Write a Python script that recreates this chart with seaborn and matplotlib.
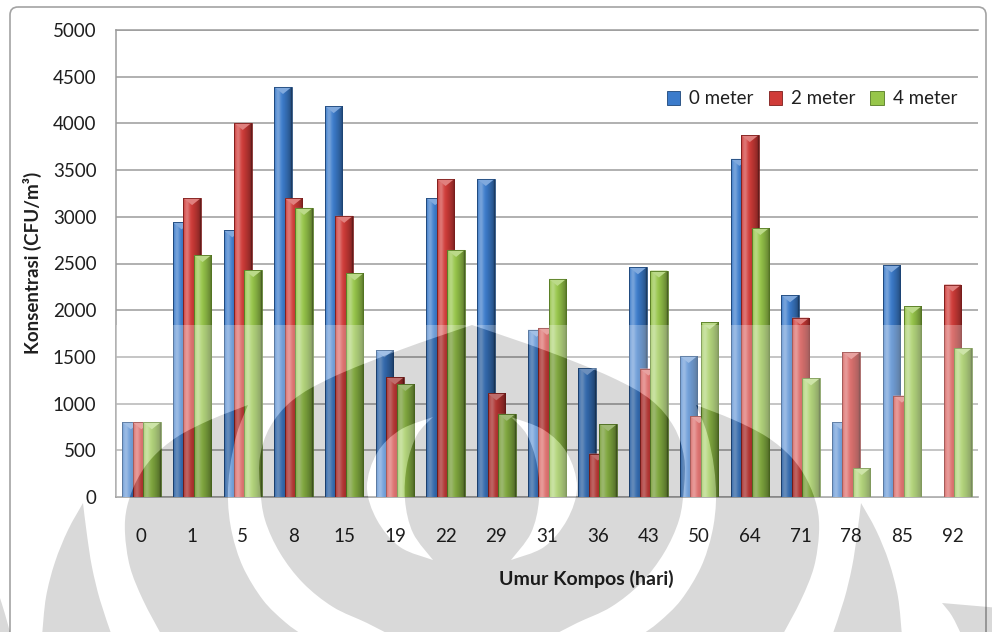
import numpy as np
import pandas as pd
import matplotlib
matplotlib.use("Agg")
import matplotlib.pyplot as plt
import seaborn as sns
from matplotlib.path import Path
from matplotlib.patches import PathPatch, FancyBboxPatch, Rectangle, Polygon

# ---- data -------------------------------------------------------------
days = ["0", "1", "5", "8", "15", "19", "22", "29", "31", "36",
        "43", "50", "64", "71", "78", "85", "92"]
series = ["0 meter", "2 meter", "4 meter"]
meter_0 = [800, 2940, 2855, 4390, 4185, 1570, 3200, 3405, 1790, 1380,
           2460, 1510, 3620, 2160, 800, 2480, np.nan]
meter_2 = [800, 3200, 4005, 3200, 3010, 1280, 3405, 1110, 1810, 465,
           1375, 865, 3875, 1920, 1550, 1085, 2275]
meter_4 = [800, 2590, 2430, 3095, 2395, 1210, 2645, 890, 2335, 780,
           2425, 1870, 2880, 1270, 310, 2040, 1595]
y_ticks = [0, 500, 1000, 1500, 2000, 2500, 3000, 3500, 4000, 4500, 5000]

base_colors = ["#3b7bcb", "#d03b38", "#97c64a"]
edge_colors = ["#1d4679", "#7d1d1b", "#557a22"]

df = pd.DataFrame({
    "Umur": days * 3,
    "Konsentrasi": meter_0 + meter_2 + meter_4,
    "Jarak": np.repeat(series, len(days)),
}).dropna()

# ---- figure -------------------------------------------------------------
sns.set_style("white")
plt.rcParams["font.family"] = ["Lato", "DejaVu Sans"]

W, H = 992, 632
fig = plt.figure(figsize=(W / 100, H / 100), dpi=100)
fig.patch.set_facecolor("white")

left, right, top, bottom = 116, 978, 30, 497
ax = fig.add_axes([left / W, 1 - bottom / H, (right - left) / W, (bottom - top) / H])

sns.barplot(data=df, x="Umur", y="Konsentrasi", hue="Jarak", order=days,
            hue_order=series, palette=dict(zip(series, base_colors)),
            width=0.62, dodge=True, errorbar=None, saturation=1,
            legend=False, ax=ax)


def shade_strip(base, n=64):
    """Horizontal light/dark profile giving the columns a rounded look."""
    rgb = np.array(matplotlib.colors.to_rgb(base))
    t = np.linspace(0, 1, n)
    hi = 0.30 * np.exp(-((t - 0.22) / 0.16) ** 2)
    dk = 0.38 * np.clip((t - 0.42) / 0.58, 0, 1) ** 1.3
    col = rgb[None, :] * (1 - dk)[:, None]
    col = col + (1 - col) * hi[:, None]
    col[t < 0.04] *= 0.75
    col[t > 0.95] *= 0.75
    return col[None, :, :]


px_per_unit = (bottom - top) / 5000.0
bevel = 7.0 / px_per_unit
bar_w = 0.345

for i, cont in enumerate(ax.containers):
    strip = shade_strip(base_colors[i])
    light = np.array(matplotlib.colors.to_rgb(base_colors[i]))
    light = light + (1 - light) * 0.35
    z = 3 + i
    for bar in cont:
        h = bar.get_height()
        if not np.isfinite(h) or h <= 0:
            bar.set_visible(False)
            continue
        cx = bar.get_x() + bar.get_width() / 2
        x0, x1 = cx - bar_w / 2, cx + bar_w / 2
        bar.set_x(x0)
        bar.set_width(bar_w)
        bar.set_facecolor("none")
        bar.set_edgecolor(edge_colors[i])
        bar.set_linewidth(0.6)
        bar.set_zorder(z + 0.3)
        im = ax.imshow(strip, extent=(x0, x1, 0, h), aspect="auto",
                       interpolation="bilinear", zorder=z)
        im.set_clip_path(bar)
        ax.add_patch(Polygon([(x0, h), (x1, h), (cx, h - bevel)], closed=True,
                             facecolor=light, edgecolor="none", zorder=z + 0.2))

ax.set_xlim(-0.5, len(days) - 0.5)
ax.set_ylim(0, 5000)
ax.set_yticks(y_ticks)
ax.set_yticklabels([str(v) for v in y_ticks])
ax.set_xlabel("")
ax.set_ylabel("")
ax.set_axisbelow(True)
ax.yaxis.grid(True, color="#9b9b9b", linewidth=1.1)
ax.xaxis.grid(False)
for side in ["left", "bottom", "top"]:
    ax.spines[side].set_color("#9b9b9b")
    ax.spines[side].set_linewidth(1.1)
ax.spines["right"].set_visible(False)
ax.tick_params(axis="both", length=0, labelsize=13.5, colors="#1f1f1f")
ax.tick_params(axis="y", pad=14)
ax.tick_params(axis="x", pad=22)

fig.text(32 / W, 1 - 263 / H, "Konsentrasi (CFU/m³)", rotation=90,
         ha="center", va="center", fontsize=13.5, fontweight="bold", color="#1f1f1f")
fig.text(586 / W, 1 - 579 / H, "Umur Kompos (hari)", ha="center", va="center",
         fontsize=14, fontweight="bold", color="#1f1f1f")

handles = [Rectangle((0, 0), 1, 1, facecolor=c, edgecolor=e, linewidth=0.6)
           for c, e in zip(base_colors, edge_colors)]
ax.legend(handles, series, loc="center", bbox_to_anchor=(812 / W, 1 - 99 / H),
          bbox_transform=fig.transFigure, ncol=3, frameon=False, fontsize=13.5,
          handlelength=0.7, handleheight=0.7, handletextpad=0.5,
          columnspacing=0.8, labelcolor="#1f1f1f")

# ---- chart frame and emblem watermark (pixel coordinates) ---------------
ov = fig.add_axes([0, 0, 1, 1], zorder=10)
ov.set_xlim(0, W)
ov.set_ylim(H, 0)
ov.axis("off")
ov.patch.set_alpha(0)

ov.add_patch(FancyBboxPatch((10, 7), 976, 640,
                            boxstyle="round,pad=0,rounding_size=8",
                            fill=False, edgecolor="#a3a3a3", linewidth=1.2))

AXIS = 944.0


def mirror(edges):
    return [[(AXIS - x, y) for x, y in e] for e in edges]


def reverse(edges):
    return [list(reversed(e)) for e in reversed(edges)]


def signed_area(edges):
    pts = np.array([p for e in edges for p in e], float)
    x, y = pts[:, 0], pts[:, 1]
    return 0.5 * np.sum(x * np.roll(y, -1) - np.roll(x, -1) * y)


def orient(edges, sign):
    return edges if np.sign(signed_area(edges)) == sign else reverse(edges)


def ring(edges):
    """Closed outline: smooth Catmull-Rom curves along each edge, sharp joins."""
    verts = [edges[0][0]]
    codes = [Path.MOVETO]
    for e in edges:
        P = np.asarray(e, float)
        n = len(P)
        for k in range(n - 1):
            p0 = P[k - 1] if k > 0 else P[k]
            p1, p2 = P[k], P[k + 1]
            p3 = P[k + 2] if k + 2 < n else P[k + 1]
            verts += [tuple(p1 + (p2 - p0) / 6), tuple(p2 - (p3 - p1) / 6), tuple(p2)]
            codes += [Path.CURVE4] * 3
    verts.append(edges[0][0])
    codes.append(Path.CLOSEPOLY)
    return verts, codes


petal_outer = [
    [(83, 503), (68, 530), (55, 562), (46, 597), (42, 636)],
    [(42, 636), (112, 636)],
    [(112, 636), (100, 600), (92, 567), (87, 535), (83, 503)],
]
petal_mid = [
    [(248, 405), (210, 420), (177, 437), (153, 457), (137, 480), (127, 507),
     (125, 533), (130, 567), (143, 600), (162, 636)],
    [(162, 636), (304, 636)],
    [(304, 636), (285, 622), (263, 600), (243, 567), (232, 533), (228, 500),
     (230, 467), (237, 433), (248, 405)],
]
sliver_left = [
    [(0, 598), (5, 614), (11, 636)],
    [(11, 636), (-6, 636)],
    [(-6, 636), (-6, 598)],
    [(-6, 598), (0, 598)],
]
sliver_right = [
    [(942, 603), (952, 616), (962, 636)],
    [(962, 636), (1000, 636)],
    [(1000, 636), (1000, 608)],
    [(1000, 608), (942, 603)],
]
flame_side = [(472, 325), (400, 350), (333, 377), (293, 400), (270, 427), (260, 457),
              (260, 487), (265, 520), (280, 553), (303, 583), (333, 607), (367, 623),
              (392, 636)]
flame = [flame_side, [(392, 636), (AXIS - 392, 636)],
         list(reversed([(AXIS - x, y) for x, y in flame_side]))]
crescent = [
    [(433, 417), (400, 430), (377, 453), (367, 487), (377, 520), (400, 547), (433, 560)],
    [(433, 560), (413, 533), (405, 500), (407, 465), (417, 435), (433, 417)],
]

solid = [petal_outer, mirror(petal_outer), petal_mid, mirror(petal_mid),
         sliver_left, sliver_right, flame]
holes = [crescent, mirror(crescent)]


def compound(groups):
    verts, codes = [], []
    for edges, sign in groups:
        v, c = ring(orient(edges, sign))
        verts += v
        codes += c
    return Path(verts, codes)


gray_path = compound([(s, 1) for s in solid] + [(h, -1) for h in holes])
frame_rect = [[(-20, 320), (1012, 320)], [(1012, 320), (1012, 660)],
              [(1012, 660), (-20, 660)], [(-20, 660), (-20, 320)]]
white_path = compound([(frame_rect, 1)] + [(s, -1) for s in solid] + [(h, 1) for h in holes])

haze = PathPatch(white_path, facecolor="white", edgecolor="none", alpha=0.27)
ov.add_patch(haze)
haze.set_clip_path(Rectangle((left, 325), right - left, bottom - 325, transform=ov.transData))
ov.add_patch(PathPatch(gray_path, facecolor="black", edgecolor="none", alpha=0.15))

fig.savefig("out.png", dpi=100, facecolor="white")
